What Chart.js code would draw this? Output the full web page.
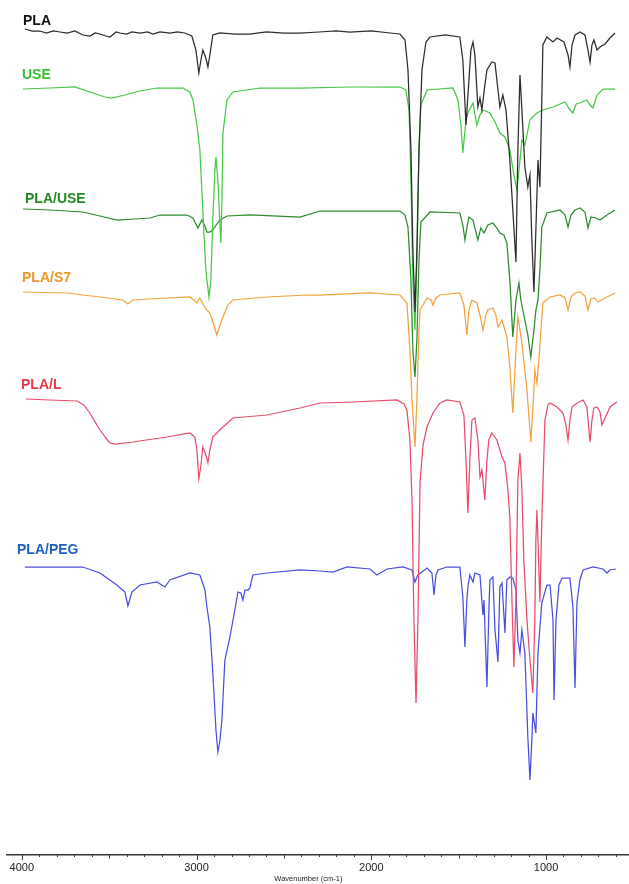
<!DOCTYPE html>
<html>
<head>
<meta charset="utf-8">
<script src="https://cdn.jsdelivr.net/npm/chart.js@4.4.1/dist/chart.umd.min.js"></script>
<style>
  html, body { margin: 0; padding: 0; background: #fff; }
  canvas { display: block; }
</style>
</head>
<body>
<canvas id="ftirChart" width="629" height="884"></canvas>
<script>
// series names, stacking offsets and axis ticks
const seriesNames = ['PLA', 'USE', 'PLA/USE', 'PLA/S7', 'PLA/L', 'PLA/PEG'];
const seriesOffsets = [82.2, 76.7, 64.2, 56.0, 45.5, 28.5];
const axisTicks = [4000, 3000, 2000, 1000];

// spectra: [wavenumber, relative transmittance]
const plaSpec = [
  [3983, 0.4], [3940, 0.2], [3897, 0.2], [3860, 0.0], [3820, 0.2], [3782, 0.1], [3740, 0.0],
  [3697, 0.2], [3651, -0.2], [3611, -0.3], [3580, 0.0], [3553, -0.1], [3520, -0.3], [3496, -0.4],
  [3460, 0.1], [3439, 0], [3400, -0.1], [3370, 0.1], [3324, 0], [3280, 0.1], [3250, -0.1],
  [3210, 0.1], [3150, 0.0], [3110, 0.1], [3067, 0], [3027, -0.3], [3004, -1.7],
  [2987, -4.0], [2975, -2.7], [2964, -1.7], [2947, -2.5], [2935, -3.4], [2924, -2.2], [2907, -0.2],
  [2866, 0], [2780, -0.1], [2695, -0.1], [2600, 0.1], [2500, 0], [2408, 0], [2300, 0.1],
  [2200, 0.2], [2122, 0.1], [2000, 0.2], [1893, 0], [1836, -0.1], [1807, -0.7],
  [1790, -3.7], [1773, -11.7], [1762, -21.7], [1750, -27.9], [1739, -21.7], [1727, -11.7], [1710, -3.7],
  [1687, -0.9], [1664, -0.4], [1578, -0.2], [1493, -0.4], [1476, -2.7], [1458, -9.2], [1441, -4.7],
  [1430, -1.7], [1418, -0.9], [1407, -2.2], [1390, -7.4], [1378, -6.5], [1367, -7.7], [1350, -5.2],
  [1338, -3.7], [1310, -2.9], [1292, -3.0], [1275, -5.7], [1264, -7.4], [1247, -6.2], [1229, -7.7],
  [1207, -12.7], [1190, -17.7], [1172, -22.9], [1161, -11.7], [1149, -4.2], [1138, -7.7], [1121, -13.4],
  [1104, -15.4], [1092, -14.2], [1081, -20.7], [1069, -25.9], [1058, -19.7], [1046, -12.7], [1035, -15.4],
  [1024, -6.7], [1018, -1.2], [995, -0.4], [960, -0.9], [937, -0.5], [897, -0.9], [874, -2.2],
  [863, -3.4], [851, -1.2], [834, -0.2], [806, 0.1], [777, -0.2], [760, -1.7], [748, -2.9],
  [737, -1.2], [726, -0.7], [708, -1.7], [691, -1.4], [662, -1.1], [634, -0.5], [605, 0]
];

const useSpec = [
  [3994, -0.1], [3840, 0], [3697, 0.1], [3611, -0.4], [3525, -0.9], [3485, -1.0], [3410, -0.7],
  [3324, -0.3], [3227, 0], [3078, 0], [3038, -0.4], [3021, -1.2], [2998, -3.7], [2981, -6.2],
  [2970, -10.2], [2958, -14.5], [2947, -18.2], [2929, -20.9], [2918, -19.2], [2907, -13.2], [2895, -8.2],
  [2889, -6.9], [2878, -9.2], [2866, -13.7], [2861, -15.5], [2855, -11.2], [2849, -4.5], [2826, -1.2],
  [2792, -0.4], [2637, 0], [2408, 0], [2122, 0.1], [1836, 0.1], [1802, -0.2], [1784, -2.2],
  [1773, -9.2], [1762, -19.2], [1750, -24.2], [1739, -17.2], [1727, -6.2], [1716, -1.7], [1681, -0.2],
  [1532, 0], [1504, -1.2], [1487, -3.7], [1476, -6.5], [1458, -3.2], [1447, -2.5], [1418, -1.5],
  [1396, -3.7], [1378, -2.7], [1361, -2.2], [1321, -2.5], [1292, -3.4], [1264, -4.5], [1235, -4.9],
  [1207, -6.2], [1184, -8.7], [1166, -10.2], [1149, -7.2], [1138, -5.2], [1121, -5.7], [1092, -3.2],
  [1052, -2.5], [1018, -2.2], [960, -1.9], [891, -1.4], [863, -2.2], [846, -2.5], [828, -1.6],
  [806, -1.5], [766, -1.2], [748, -1.7], [731, -2.0], [708, -0.7], [674, -0.1], [605, -0.1]
];

const plaUseSpec = [
  [3994, 0.4], [3840, 0.3], [3651, 0.1], [3553, -0.3], [3456, -0.7], [3353, -0.6], [3267, -0.5],
  [3210, -0.2], [3055, -0.2], [3021, -0.5], [2992, -1.5], [2970, -0.7], [2952, -1.3], [2941, -1.9],
  [2924, -1.9], [2907, -1.7], [2884, -1.1], [2866, -0.7], [2826, -0.3], [2695, -0.2], [2408, -0.4],
  [2294, 0.2], [2065, 0.2], [1836, 0.2], [1807, -0.2], [1790, -1.4], [1773, -6.7], [1762, -13.7],
  [1750, -16.4], [1739, -12.7], [1727, -4.7], [1716, -0.9], [1664, 0.1], [1493, 0], [1476, -1.2],
  [1464, -2.7], [1453, -1.5], [1441, -0.4], [1418, -0.7], [1390, -2.7], [1373, -1.5], [1355, -2.0],
  [1333, -1.2], [1304, -1.0], [1281, -1.5], [1264, -2.0], [1241, -2.2], [1224, -3.0], [1207, -6.7],
  [1190, -12.4], [1172, -8.7], [1155, -7.0], [1144, -8.7], [1121, -10.7], [1104, -12.2], [1087, -14.4],
  [1069, -11.7], [1058, -9.7], [1046, -8.7], [1035, -5.7], [1024, -1.4], [995, 0], [920, 0.3],
  [891, -0.2], [874, -1.4], [857, -0.2], [834, 0.3], [806, 0.5], [777, 0.1], [760, -1.5],
  [743, -0.4], [714, -0.5], [691, -0.7], [651, -0.2], [605, 0.3]
];

const plaS7Spec = [
  [3994, 0.3], [3742, 0.2], [3553, -0.2], [3422, -0.5], [3393, -0.9], [3365, -0.5], [3170, -0.3],
  [3038, -0.2], [3015, -0.5], [2998, -0.8], [2981, -0.3], [2952, -1.3], [2924, -1.8], [2901, -3.0],
  [2884, -4.0], [2866, -3.0], [2849, -2.2], [2821, -1.0], [2792, -0.5], [2597, -0.2], [2368, 0],
  [2294, 0], [2008, 0.2], [1836, 0], [1796, -0.8], [1779, -5.5], [1767, -10.5], [1750, -15.2],
  [1739, -10.5], [1727, -3.5], [1721, -1.5], [1681, -0.3], [1658, -0.5], [1647, -1.0], [1630, -0.3],
  [1607, 0], [1493, 0.2], [1470, -1.0], [1453, -4.0], [1441, -1.5], [1424, -0.5], [1396, -0.8],
  [1378, -2.0], [1361, -3.5], [1344, -2.0], [1333, -1.5], [1304, -1.3], [1287, -2.0], [1275, -3.2],
  [1252, -2.5], [1224, -4.2], [1207, -7.2], [1190, -11.8], [1172, -5.5], [1161, -2.2], [1149, -3.5],
  [1138, -4.8], [1109, -9.5], [1087, -14.7], [1069, -9.5], [1064, -7.5], [1052, -8.8], [1041, -6.5],
  [1018, -0.8], [977, -0.2], [920, 0], [891, -0.3], [874, -1.5], [857, -0.2], [834, 0.2],
  [806, 0.3], [777, -0.1], [760, -1.5], [743, -0.4], [720, -0.3], [703, -0.7], [662, -0.3], [605, 0.2]
];

const plaLSpec = [
  [3977, 0.1], [3840, 0], [3685, -0.1], [3645, -0.5], [3611, -1.3], [3553, -3.0], [3519, -3.8],
  [3496, -4.3], [3468, -4.4], [3365, -4.2], [3170, -3.7], [3038, -3.3], [3010, -3.7], [2998, -5.0],
  [2987, -7.9], [2975, -6.5], [2964, -4.7], [2947, -5.5], [2935, -6.3], [2924, -5.0], [2907, -3.7],
  [2855, -2.8], [2792, -1.8], [2597, -1.5], [2408, -0.8], [2294, -0.3], [2105, -0.2], [1853, 0],
  [1813, -0.4], [1796, -1.0], [1779, -4.0], [1767, -10.0], [1756, -22.0], [1744, -30.3], [1733, -22.0],
  [1721, -8.3], [1704, -4.5], [1681, -2.7], [1647, -1.3], [1607, -0.3], [1567, 0], [1493, -0.2],
  [1470, -1.5], [1458, -6.0], [1447, -11.3], [1436, -6.0], [1424, -2.0], [1407, -1.8], [1390, -4.0],
  [1378, -7.7], [1367, -7.0], [1350, -10.0], [1338, -6.0], [1327, -4.0], [1310, -3.3], [1281, -4.0],
  [1252, -5.7], [1235, -6.3], [1218, -9.0], [1207, -11.7], [1195, -20.0], [1184, -26.7], [1172, -20.0],
  [1161, -8.0], [1149, -5.3], [1138, -9.0], [1127, -16.0], [1109, -22.0], [1092, -26.0], [1075, -29.3],
  [1064, -22.0], [1058, -14.0], [1052, -11.0], [1046, -14.0], [1035, -20.2], [1024, -12.0], [1006, -2.0],
  [989, -0.5], [977, -0.3], [937, -0.7], [903, -1.3], [886, -2.5], [874, -4.0], [863, -2.0],
  [851, -0.7], [823, -0.3], [788, 0], [766, -0.7], [748, -4.2], [737, -2.0], [726, -0.8],
  [708, -0.7], [691, -1.2], [680, -2.5], [662, -1.8], [634, -0.7], [594, -0.2]
];

const plaPegSpec = [
  [3983, 0.3], [3651, 0.3], [3553, -0.3], [3456, -1.5], [3410, -2.2], [3393, -3.6], [3370, -2.2],
  [3324, -1.5], [3227, -1.2], [3181, -1.7], [3153, -1.0], [3038, -0.3], [2981, -0.5], [2952, -2.0],
  [2941, -3.7], [2924, -5.7], [2907, -10.3], [2889, -16.0], [2878, -18.2], [2866, -17.0], [2855, -15.0],
  [2838, -9.0], [2809, -6.7], [2781, -4.0], [2763, -2.2], [2746, -2.3], [2735, -3.0], [2723, -2.0],
  [2706, -2.0], [2695, -1.8], [2678, -0.5], [2597, -0.3], [2408, 0], [2294, -0.1], [2220, -0.2],
  [2139, 0.3], [2008, 0.1], [1968, -0.5], [1910, 0.1], [1819, 0.3], [1767, 0], [1750, -1.2],
  [1733, -0.5], [1681, 0.2], [1653, -0.3], [1641, -2.5], [1630, -0.5], [1618, 0], [1567, 0.3],
  [1493, 0.3], [1476, -2.7], [1464, -7.7], [1453, -3.0], [1447, -1.7], [1436, -0.5], [1418, -1.2],
  [1407, -0.3], [1378, -0.5], [1361, -4.5], [1355, -3.0], [1338, -11.7], [1327, -4.0], [1321, -1.0],
  [1304, -0.7], [1292, -6.0], [1275, -9.2], [1264, -1.7], [1252, -1.3], [1235, -6.3], [1224, -1.0],
  [1207, -0.7], [1190, -0.8], [1172, -2.0], [1161, -7.0], [1149, -8.3], [1138, -6.0], [1121, -8.3],
  [1104, -16.7], [1092, -21.0], [1081, -17.0], [1075, -14.3], [1058, -16.3], [1046, -8.3], [1024, -3.3],
  [995, -1.5], [977, -1.5], [960, -5.0], [954, -13.0], [943, -5.0], [926, -1.5], [908, -0.8],
  [863, -0.8], [846, -3.7], [834, -11.8], [823, -3.3], [806, -1.0], [788, 0], [731, 0.3],
  [674, 0.1], [651, -0.3], [634, 0], [600, 0.1]
];

const spectra = [plaSpec, useSpec, plaUseSpec, plaS7Spec, plaLSpec, plaPegSpec];
const lineColors = ['#2b2b2b', '#46c846', '#2c8a2c', '#f4a23c', '#e84c6c', '#4a4ee0'];
const nameColors = ['#111111', '#38c038', '#238a23', '#ef962a', '#e33a4e', '#2060c4'];

// label placement (px from left of axis, px above the series baseline)
const nameSpots = [[16, 12], [15, 13], [18, 14], [15, 17], [14, 15], [10, 20]];

const seriesNamePlugin = {
  id: 'seriesNames',
  afterDatasetsDraw(chart) {
    const { ctx, chartArea, scales } = chart;
    ctx.save();
    ctx.font = 'bold 14px "Liberation Sans", Arial, sans-serif';
    ctx.textBaseline = 'middle';
    ctx.textAlign = 'left';
    seriesNames.forEach((name, i) => {
      const y = scales.y.getPixelForValue(seriesOffsets[i]) - nameSpots[i][1];
      ctx.fillStyle = nameColors[i];
      ctx.fillText(name, chartArea.left + nameSpots[i][0], y);
    });
    ctx.restore();
  }
};

// small tick marks every 100 cm-1 under the axis line, plus the axis title
const axisExtrasPlugin = {
  id: 'axisExtras',
  afterDraw(chart) {
    const { ctx, scales } = chart;
    const xs = scales.x;
    ctx.save();
    ctx.strokeStyle = '#3a3a3a';
    ctx.lineWidth = 1;
    for (let v = 600; v <= 4000; v += 100) {
      const px = Math.round(xs.getPixelForValue(v)) + 0.5;
      let len = 2;
      if (v % 1000 === 0) len = 5;
      else if (v % 500 === 0) len = 3.5;
      ctx.beginPath();
      ctx.moveTo(px, xs.top);
      ctx.lineTo(px, xs.top + len);
      ctx.stroke();
    }
    ctx.fillStyle = '#222';
    ctx.font = '7.5px "Liberation Sans", Arial, sans-serif';
    ctx.textAlign = 'center';
    ctx.textBaseline = 'middle';
    ctx.fillText('Wavenumber (cm-1)', xs.getPixelForValue(2360), xs.top + 24);
    ctx.restore();
  }
};

const ctx = document.getElementById('ftirChart').getContext('2d');
const ftirChart = new Chart(ctx, {
  type: 'line',
  data: {
    datasets: spectra.map((spec, i) => ({
      label: seriesNames[i],
      data: spec.map(p => ({ x: p[0], y: seriesOffsets[i] + p[1] })),
      borderColor: lineColors[i],
      borderWidth: 1.25,
      pointRadius: 0,
      tension: 0,
      fill: false
    }))
  },
  options: {
    responsive: false,
    animation: false,
    layout: { padding: { left: 7, right: 0, top: 0, bottom: 0 } },
    plugins: {
      legend: { display: false },
      tooltip: { enabled: false }
    },
    scales: {
      x: {
        type: 'linear',
        reverse: true,
        min: 525,
        max: 4085,
        afterBuildTicks: (scale) => {
          scale.ticks = axisTicks.map(v => ({ value: v }));
        },
        afterFit: (scale) => {
          scale.height = 29;
        },
        grid: { display: false, drawTicks: false },
        border: { display: true, color: '#333', width: 1.5 },
        ticks: {
          autoSkip: false,
          maxRotation: 0,
          padding: 6,
          color: '#222',
          callback: (v) => String(v),
          font: { family: '"Liberation Sans", Arial, sans-serif', size: 11 }
        },
        title: { display: false }
      },
      y: {
        display: false,
        min: 0,
        max: 85.5
      }
    }
  },
  plugins: [seriesNamePlugin, axisExtrasPlugin]
});
</script>
</body>
</html>
